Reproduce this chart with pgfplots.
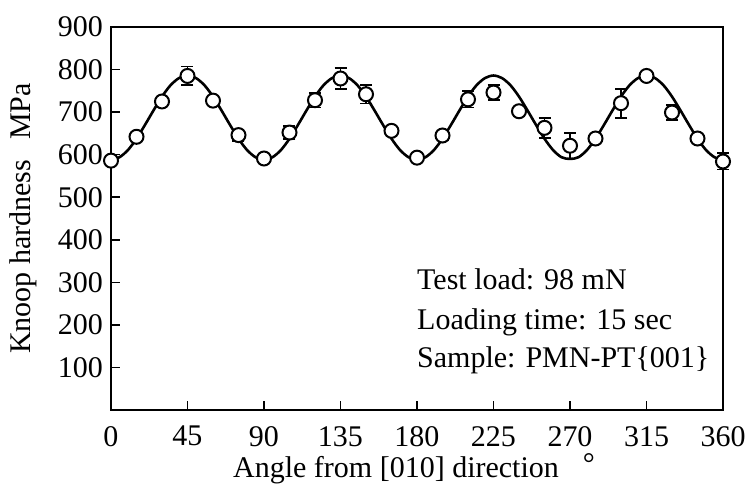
\documentclass[border=0pt]{standalone}
\usepackage{pgfplots}
\pgfplotsset{compat=1.18}
\usepackage{pgfplotstable}
\usepackage{fontspec}
\setmainfont{Liberation Serif}
\newcommand{\bigf}{\fontsize{30}{36}\selectfont}

\pgfplotstableread{
x y e
0 586 10
15 642 8
30 725 5
45 785 22
60 727 5
75 646 13
90 591 5
105 652 16
120 728 17
135 779 24
150 742 22
165 656 5
180 593 5
195 645 10
210 730 19
225 746 18
240 702 5
255 663 23
270 621 30
285 638 5
300 721 34
315 785 5
330 699 18
345 638 5
360 584 19
}\meas

\pgfplotstableread{
x y
0 588
5 594
10 611
15 637.5
20 670
25 704
30 736.5
35 763
40 780
45 786
50 780
55 763
60 736.5
65 704
70 670
75 637.5
80 611
85 594
90 588
95 594
100 611
105 637.5
110 670
115 704
120 736.5
125 763
130 780
135 786
140 780
145 763
150 736.5
155 704
160 670
165 637.5
170 611
175 594
180 588
185 594
190 611
195 637.5
200 670
205 704
210 736.5
215 763
220 780
225 786
230 780
235 763
240 736.5
245 704
250 670
255 637.5
260 611
265 594
270 590
275 594
280 611
285 637.5
290 670
295 704
300 736.5
305 763
310 780
315 786
320 780
325 763
330 736.5
335 704
340 670
345 637.5
350 611
355 594
360 588
}\fit

\begin{document}
\begin{tikzpicture}
\begin{axis}[
  scale only axis,
  width=612pt, height=383pt,
  xmin=0, xmax=360, ymin=0, ymax=900,
  xtick={0,45,...,360},
  ytick={100,200,...,900},
  xtick pos=bottom, ytick pos=left,
  tick align=inside,
  major tick length=9pt,
  axis line style={line width=1.8pt},
  every tick/.style={line width=1.6pt, black},
  /pgf/number format/assume math mode=true,
  xticklabel style={font=\bigf, inner sep=0pt, yshift=-16pt},
  yticklabel style={font=\bigf, inner sep=0pt, xshift=-8pt},
  xlabel={Angle from [010] direction\hspace{24pt}\raisebox{4pt}{°}},
  ylabel={Knoop hardness\hspace{20pt}MPa},
  xlabel style={font=\bigf, at={(axis description cs:0.4951,-0.1775)}, anchor=base, inner sep=0pt},
  ylabel style={font=\bigf, at={(axis description cs:-0.1438,0.5)}, anchor=center, inner sep=0pt},
  clip=false,
]
\addplot[black, line width=2.6pt, smooth] table[x=x, y=y] {\fit};
\addplot[only marks, mark=*, mark size=7pt,
  mark options={fill=white, draw=black, line width=2pt},
  error bars/.cd, y dir=both, y explicit,
  error bar style={line width=1.8pt, black},
  error mark options={rotate=90, mark size=6pt, line width=1.8pt, black}]
  table[x=x, y=y, y error=e] {\meas};
\node[anchor=base west, font=\bigf, inner sep=0pt] at (axis cs:180,282) {Test load: 98 mN};
\node[anchor=base west, font=\bigf, inner sep=0pt] at (axis cs:180,188) {Loading time: 15 sec};
\node[anchor=base west, font=\bigf, inner sep=0pt] at (axis cs:180,99) {Sample: PMN-PT\{001\}};
\end{axis}
\pgfresetboundingbox
\path ([shift={(-111pt,-75pt)}]current axis.south west) rectangle ([shift={(637pt,410pt)}]current axis.south west);
\end{tikzpicture}
\end{document}
